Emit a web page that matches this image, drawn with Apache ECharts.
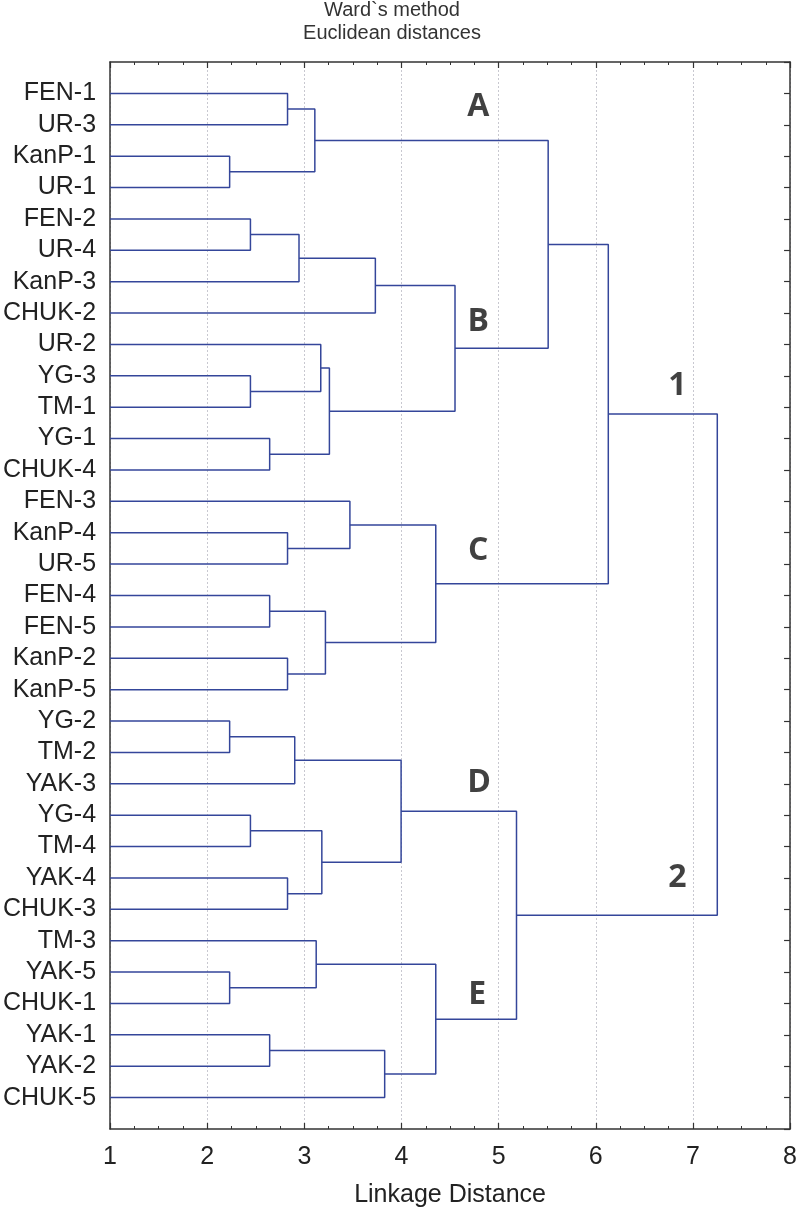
<!DOCTYPE html>
<html>
<head>
<meta charset="utf-8">
<script src="https://cdn.jsdelivr.net/npm/echarts@6/dist/echarts.min.js"></script>
<style>html,body{margin:0;padding:0;background:#fff}#c{width:800px;height:1213px}</style>
</head>
<body>
<div id="c"></div>
<script>
// ---- data ----
const leaves = ['FEN-1','UR-3','KanP-1','UR-1','FEN-2','UR-4','KanP-3','CHUK-2','UR-2','YG-3','TM-1','YG-1','CHUK-4',
  'FEN-3','KanP-4','UR-5','FEN-4','FEN-5','KanP-2','KanP-5','YG-2','TM-2','YAK-3','YG-4','TM-4','YAK-4','CHUK-3',
  'TM-3','YAK-5','CHUK-1','YAK-1','YAK-2','CHUK-5'];
// children: index < 33 is a leaf, index >= 33 refers to merge (index - 33)
const mergeLeft  = [0,2,33,4,36,37,9,8,11,40,38,35,14,13,16,18,47,46,44,20,52,23,25,54,53,28,27,30,60,59,57,51];
const mergeRight = [1,3,34,5,6,7,10,39,12,41,42,43,15,45,17,19,48,49,50,21,22,24,26,55,56,29,58,31,32,61,62,63];
const mergeHeight = [2.827,2.231,3.108,2.445,2.945,3.731,2.445,3.169,2.643,3.258,4.551,5.510,2.827,3.469,2.643,2.827,
  3.217,4.353,6.129,2.231,2.901,2.445,2.827,3.180,3.996,2.231,3.122,2.643,3.827,4.353,5.184,7.251];
const xTicks = [1,2,3,4,5,6,7,8];
const clusterNames = ['A','B','C','D','E','1','2'];
const clusterX = [4.79,4.79,4.79,4.80,4.78,6.84,6.84];
const clusterY = [0.42,7.27,14.59,21.97,28.74,9.33,25.0];

// ---- build ----
const n = leaves.length;
const nodeX = [], nodeY = [];
for (let i = 0; i < n; i++) { nodeX.push(1); nodeY.push(i); }
const lineColor = '#34469a';
const series = [];
for (let k = 0; k < mergeHeight.length; k++) {
  const a = mergeLeft[k], b = mergeRight[k], h = mergeHeight[k];
  series.push({
    type: 'line', xAxisIndex: 0, yAxisIndex: 0, symbol: 'none', silent: true, animation: false,
    lineStyle: { color: lineColor, width: 1.5 },
    data: [[nodeX[a], nodeY[a]], [h, nodeY[a]], [h, nodeY[b]], [nodeX[b], nodeY[b]]]
  });
  nodeX.push(h); nodeY.push((nodeY[a] + nodeY[b]) / 2);
}
series.push({
  type: 'scatter', symbolSize: 0, silent: true, animation: false,
  data: clusterNames.map((t, i) => ({ value: [clusterX[i], clusterY[i]], name: t })),
  label: { show: true, position: 'inside', formatter: p => p.name,
    fontFamily: 'Open Sans', fontWeight: 'bold', fontSize: 32, color: '#111' }
});

const axisColor = '#333';
const font = 'Liberation Sans, Arial, sans-serif';
const chart = echarts.init(document.getElementById('c'), null, { renderer: 'canvas' });
chart.setOption({
  animation: false,
  backgroundColor: '#fff',
  grid: { left: 108, right: 6.7, top: 62, bottom: 82 },
  graphic: [{
    type: 'text', x: 392, y: 22,
    style: { text: 'Ward`s method\nEuclidean distances', align: 'center', verticalAlign: 'middle',
      font: '20px ' + font, fill: '#333', lineHeight: 23 }
  }],
  xAxis: [{
    type: 'value', min: 1, max: 8, interval: 1, position: 'bottom',
    name: 'Linkage Distance', nameLocation: 'middle', nameGap: 54,
    nameTextStyle: { fontSize: 25, fontFamily: font, color: '#222' },
    axisLine: { show: true, onZero: false, lineStyle: { color: axisColor, width: 1.5 } },
    axisTick: { show: true, inside: true, length: 6, lineStyle: { color: axisColor, width: 1.2 } },
    minorTick: { show: true, splitNumber: 4, length: 3, lineStyle: { color: axisColor, width: 1 } },
    axisLabel: { fontSize: 25, fontFamily: font, color: '#222', margin: 16,
      formatter: v => xTicks.includes(v) ? String(v) : '' },
    splitLine: { show: true, lineStyle: { color: '#c8c8d0', type: [2, 2], width: 1 } }
  }, {
    type: 'value', min: 1, max: 8, interval: 1, position: 'top',
    axisLine: { show: true, onZero: false, lineStyle: { color: axisColor, width: 1.5 } },
    axisTick: { show: true, inside: true, length: 6, lineStyle: { color: axisColor, width: 1.2 } },
    minorTick: { show: true, splitNumber: 4, length: 3, lineStyle: { color: axisColor, width: 1 } },
    axisLabel: { show: false }, splitLine: { show: false }
  }],
  yAxis: [{
    type: 'value', min: -1, max: n, interval: 1, inverse: true, position: 'left',
    axisLine: { show: true, onZero: false, lineStyle: { color: axisColor, width: 1.5 } },
    axisTick: { show: false },
    axisLabel: { fontSize: 25, fontFamily: font, color: '#222', margin: 14,
      formatter: v => (v >= 0 && v < n) ? leaves[v] : '' },
    splitLine: { show: false }
  }, {
    type: 'value', min: -1, max: n, interval: 1, inverse: true, position: 'right',
    axisLine: { show: true, onZero: false, lineStyle: { color: axisColor, width: 1.5 } },
    axisTick: { show: true, inside: true, length: 6, lineStyle: { color: axisColor, width: 1.2 } },
    axisLabel: { show: false }, splitLine: { show: false }
  }],
  series: series
});
</script>
</body>
</html>
